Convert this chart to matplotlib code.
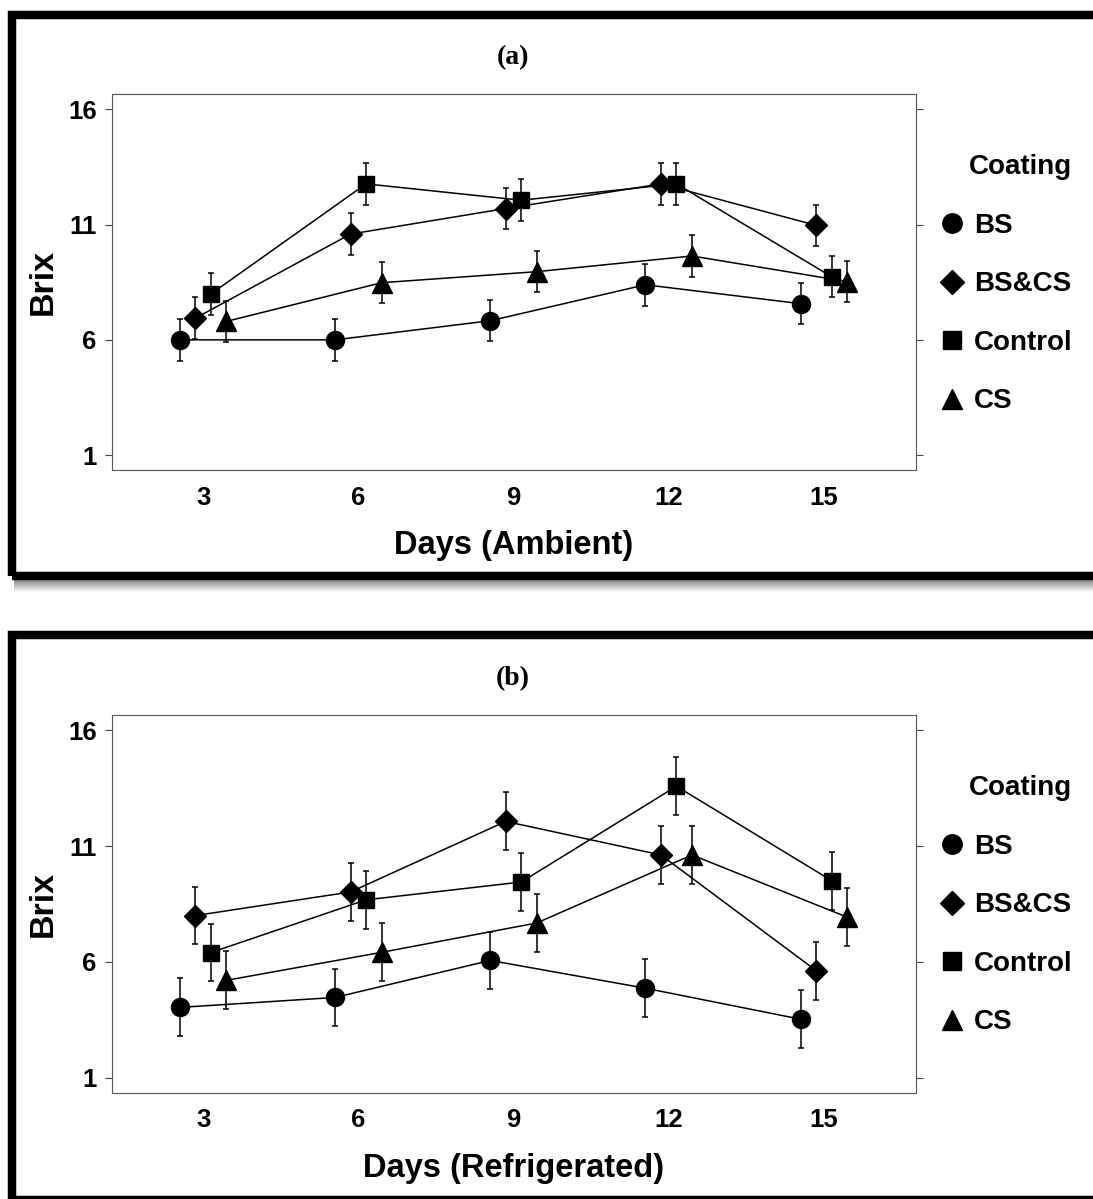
import matplotlib
matplotlib.use("Agg")
import matplotlib.pyplot as plt
from matplotlib.patches import Rectangle
from matplotlib.lines import Line2D

# Данные: Brix по дням хранения
days = [3, 6, 9, 12, 15]
coatings = ['BS', 'BS&CS', 'Control', 'CS']

bs_amb = [6.0, 6.0, 6.83, 8.39, 7.57]
bscs_amb = [6.94, 10.59, 11.7, 12.77, 10.97]
ctrl_amb = [7.99, 12.77, 12.06, 12.77, 8.74]
cs_amb = [6.8, 8.48, 8.96, 9.64, 8.53]
err_amb = [0.9, 0.9, 0.9, 0.9, 0.9]

bs_ref = [4.03, 4.46, 6.06, 4.86, 3.52]
bscs_ref = [8.0, 9.02, 12.07, 10.62, 5.62]
ctrl_ref = [6.4, 8.68, 9.45, 13.59, 9.51]
cs_ref = [5.2, 6.41, 7.68, 10.62, 7.93]
err_ref = [1.25, 1.25, 1.25, 1.25, 1.25]

yticks = [1, 6, 11, 16]

W, H = 1093, 1199
plt.rcParams['font.family'] = ['Liberation Sans', 'DejaVu Sans']
plt.rcParams['font.weight'] = 'bold'
fig = plt.figure(figsize=(W / 100, H / 100), dpi=100)

markers = {'BS': ('o', 13), 'BS&CS': ('D', 11), 'Control': ('s', 11.5), 'CS': ('^', 14)}
offsets = [-0.45, -0.15, 0.15, 0.45]


def px(x, y):
    return x / W, 1 - y / H


def panel(top_px, bottom_px, series, err, title, xlabel):
    x0, y0 = px(111.5, bottom_px)
    ax = fig.add_axes([x0, y0, (916 - 111.5) / W, (bottom_px - top_px) / H])
    for name, vals, off in zip(coatings, series, offsets):
        m, ms = markers[name]
        xs = [d + off for d in days]
        ax.errorbar(xs, vals, yerr=err, color='black', marker=m, markersize=ms,
                    lw=1.1, elinewidth=1.1, capsize=2.5, capthick=1.1)
    ax.set_xlim(1.23, 16.78)
    ax.set_ylim(0.33, 16.67)
    ax.set_xticks(days)
    ax.set_yticks(yticks)
    ax.tick_params(axis='x', length=0, pad=11, labelsize=18.5)
    ax.tick_params(axis='y', direction='out', length=4.8, width=0.8, color='#444444',
                   pad=6, labelsize=18.5, right=True)
    for s in ax.spines.values():
        s.set_color('#555555')
        s.set_linewidth(0.8)
    ax.set_xlabel(xlabel, fontsize=23.5, fontweight='bold')
    ax.xaxis.set_label_coords(0.5, -0.158)
    ax.set_ylabel('Brix', fontsize=24.5, fontweight='bold')
    ax.yaxis.set_label_coords(-0.066, 0.5)
    handles = [Line2D([], [], color='black', marker=markers[c][0], markersize=markers[c][1] + 1,
                      linestyle='none') for c in coatings]
    ax.legend(handles, coatings, title='Coating', loc='upper left',
              bbox_to_anchor=(1.027, 0.84), frameon=False, fontsize=20,
              title_fontproperties={'size': 20, 'weight': 'bold'},
              handlelength=1.0, handletextpad=0.3, labelspacing=1.17,
              borderpad=0, borderaxespad=0, alignment='right')
    tx, ty = px(513, top_px - 36)
    fig.text(tx, ty, title, ha='center', va='center', fontsize=20, fontweight='bold',
             family='Liberation Serif')
    return ax


panel(94, 470.5, [bs_amb, bscs_amb, ctrl_amb, cs_amb], err_amb, '(a)', 'Days (Ambient)')
panel(715, 1093, [bs_ref, bscs_ref, ctrl_ref, cs_ref], err_ref, '(b)', 'Days (Refrigerated)')

# тень под первой рамкой
for i in range(12):
    g = 0.55 + 0.45 * i / 12
    sx, sy = px(14, 581 + i)
    fig.add_artist(Rectangle((sx, sy), 1.1, 1 / H, transform=fig.transFigure,
                             facecolor=(g, g, g), edgecolor='none'))

# толстые рамки
for top, bottom in [(15, 576), (635, 1199.5)]:
    fx, fy = px(12, bottom)
    fig.add_artist(Rectangle((fx, fy), 1.1, (bottom - top) / H, transform=fig.transFigure,
                             fill=False, edgecolor='black', linewidth=6.1))

fig.savefig('out.png', dpi=100)
